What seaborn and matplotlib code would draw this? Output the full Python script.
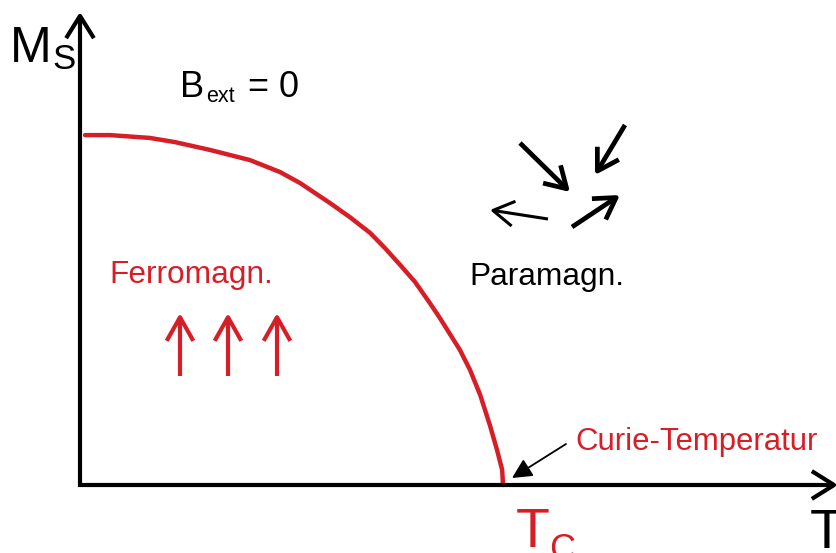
import matplotlib
matplotlib.use("Agg")
import matplotlib.pyplot as plt
import seaborn as sns

# --- data: spontaneous magnetisation vs. temperature (normalised) ---
t_over_tc = [0.012, 0.071, 0.165, 0.225, 0.307, 0.402, 0.473, 0.520,
             0.591, 0.638, 0.686, 0.721, 0.757, 0.792, 0.827, 0.851, 0.898,
             0.922, 0.946, 0.969, 0.986, 0.998, 1.0]
ms_over_m0 = [0.994, 0.994, 0.986, 0.974, 0.952, 0.923, 0.889, 0.858,
              0.801, 0.761, 0.716, 0.673, 0.625, 0.577, 0.517, 0.474, 0.384,
              0.327, 0.256, 0.170, 0.099, 0.043, 0.0]

label_ms = ("M", "S")
label_t = "T"
label_tc = ("T", "C")
label_field = ("B", "ext", "= 0")
label_ferro = "Ferromagn."
label_para = "Paramagn."
label_curie = "Curie-Temperatur"

RED = "#d71e26"
BLACK = "#000000"

sns.set_theme(style="white")
plt.rcParams["font.family"] = ["Liberation Sans", "DejaVu Sans"]

W, H = 836, 553
fig = plt.figure(figsize=(W / 100, H / 100), dpi=100)
ax = fig.add_axes([0, 0, 1, 1])

# layout: origin of the sketch in pixels and pixels per unit
OX, OY, SX, SY = 80, 485, 423, 352


def px(x, y):
    """top-left pixel position -> data coordinates"""
    return ((x - OX) / SX, (OY - y) / SY)


ax.set_xlim(px(0, 0)[0], px(W, 0)[0])
ax.set_ylim(px(0, H)[1], px(0, 0)[1])
ax.axis("off")

line = sns.lineplot(x=t_over_tc, y=ms_over_m0, color=RED, lw=3.2, ax=ax,
                    legend=False)
for ln in line.lines:
    ln.set_solid_joinstyle("round")
    ln.set_solid_capstyle("round")


def arrow(tail, tip, color=BLACK, lw=3.0, hl=0.75, hw=0.45, style="->"):
    ax.annotate("", xy=px(*tip), xytext=px(*tail), annotation_clip=False,
                arrowprops=dict(arrowstyle=f"{style},head_length={hl},head_width={hw}",
                                color=color, lw=lw, shrinkA=0, shrinkB=0,
                                mutation_scale=20, capstyle="butt"))


# axes drawn as arrows
arrow((80, 487), (80, 12), lw=3.0, hl=0.8, hw=0.5)
arrow((78, 485), (838, 485), lw=3.0, hl=0.8, hw=0.5)

# ferromagnetic spins (all aligned)
for xs in (180, 228, 277):
    arrow((xs, 376), (xs, 313), color=RED, lw=3.0, hl=0.85, hw=0.48)

# paramagnetic spins (random)
arrow((520, 143), (570, 192), lw=3.4)
arrow((625, 125), (595, 175), lw=3.4)
arrow((572, 227), (620, 195), lw=3.4)
arrow((548, 219), (490, 210), lw=2.2)

# Curie temperature pointer
ax.annotate("", xy=px(512, 478), xytext=px(566, 444), annotation_clip=False,
            arrowprops=dict(arrowstyle="-|>,head_length=0.6,head_width=0.3",
                            color=BLACK, lw=1.3, shrinkA=0, shrinkB=0,
                            mutation_scale=20))


def text(x, y, s, size, color=BLACK):
    ax.text(*px(x, y), s, fontsize=size, color=color, ha="left", va="baseline")


# axis labels
text(10, 62, label_ms[0], 36)
text(52, 69, label_ms[1], 25)
text(810, 548, label_t, 40)
text(516, 547, label_tc[0], 40, RED)
text(549, 560, label_tc[1], 26, RED)

# annotations
text(180, 97, label_field[0], 26)
text(206, 102, label_field[1], 15.5)
text(248, 97, label_field[2], 26)
text(109, 283, label_ferro, 22.8, RED)
text(469, 285, label_para, 22.8)
text(575, 450, label_curie, 22.4, RED)

fig.savefig("out.png", dpi=100)
